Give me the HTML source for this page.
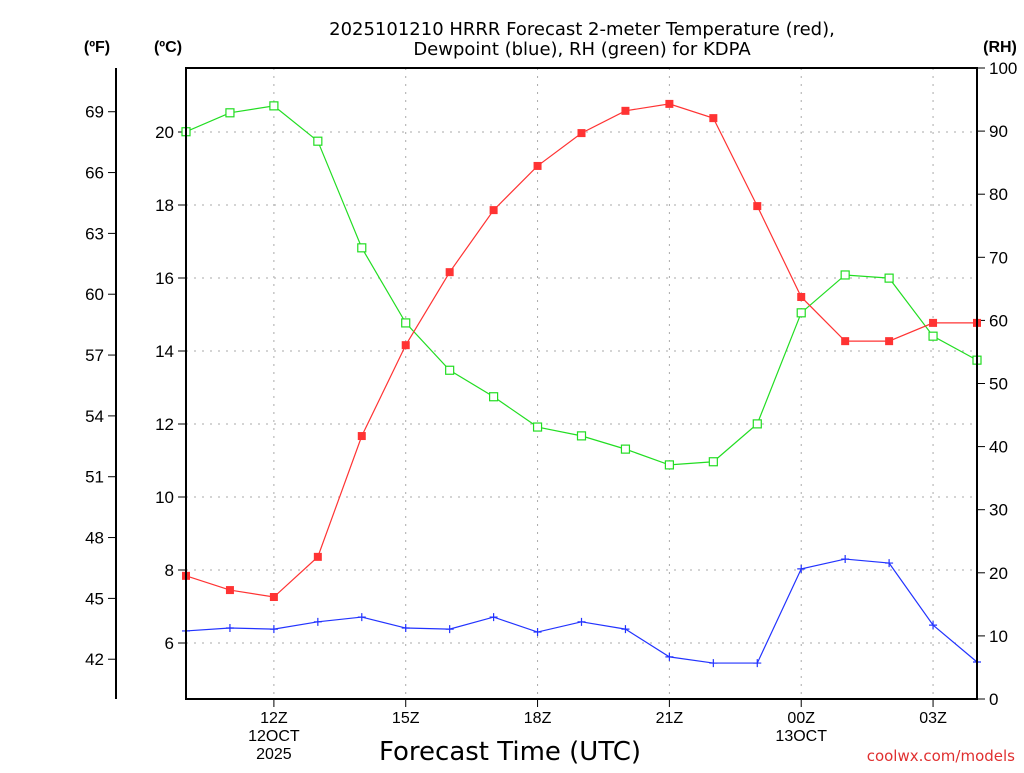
<!DOCTYPE html>
<html><head><meta charset="utf-8"><style>
body{margin:0;background:#fff;}
svg{font-family:"Liberation Sans",sans-serif;}
</style></head><body>
<svg id="c" width="1024" height="768" xmlns="http://www.w3.org/2000/svg">
<text x="582" y="35" font-size="18" text-anchor="middle" font-family="DejaVu Sans">2025101210 HRRR Forecast 2-meter Temperature (red),</text>
<text x="582" y="55" font-size="18" text-anchor="middle" font-family="DejaVu Sans">Dewpoint (blue), RH (green) for KDPA</text>
<text x="97" y="52" font-size="16" font-weight="bold" text-anchor="middle">(ºF)</text>
<text x="168" y="52" font-size="16" font-weight="bold" text-anchor="middle">(ºC)</text>
<text x="1000" y="52" font-size="16" font-weight="bold" text-anchor="middle">(RH)</text>
<text x="510" y="760" font-size="26" text-anchor="middle" font-family="DejaVu Sans">Forecast Time (UTC)</text>
<text x="1015" y="761" font-size="15" fill="#e03030" text-anchor="end" font-family="DejaVu Sans">coolwx.com/models</text>
<g id="g"></g>
</svg>
<script>
const hours=["10Z","11Z","12Z","13Z","14Z","15Z","16Z","17Z","18Z","19Z","20Z","21Z","22Z","23Z","00Z","01Z","02Z","03Z","04Z"];
const tempC=[7.84,7.45,7.26,8.36,11.67,14.16,16.16,17.86,19.07,19.97,20.58,20.77,20.38,17.97,15.48,14.27,14.27,14.77,14.77];
const dewC=[6.33,6.41,6.38,6.58,6.71,6.41,6.38,6.71,6.30,6.58,6.38,5.62,5.45,5.45,8.03,8.30,8.19,6.49,5.48];
const rh=[89.9,92.9,94.0,88.4,71.5,59.6,52.1,47.9,43.1,41.7,39.6,37.1,37.6,43.6,61.2,67.2,66.7,57.5,53.7];
const cTicks=[6,8,10,12,14,16,18,20];
const fTicks=[42,45,48,51,54,57,60,63,66,69];
const rhTicks=[0,10,20,30,40,50,60,70,80,90,100];
const xLabels=[[2,"12Z","12OCT","2025"],[5,"15Z"],[8,"18Z"],[11,"21Z"],[14,"00Z","13OCT"],[17,"03Z"]];
const L=186,R=977,T=68,B=699;
const X=i=>L+i*(R-L)/18;
const YC=c=>132+(20-c)*36.5;
const YF=f=>YC((f-32)*5/9);
const YR=r=>B-r*(B-T)/100;
const g=document.getElementById('g');
const NS="http://www.w3.org/2000/svg";
function mk(t,a,txt){const e=document.createElementNS(NS,t);for(const k in a)e.setAttribute(k,a[k]);if(txt!==undefined)e.textContent=txt;g.appendChild(e);return e;}
let e;
cTicks.forEach(c=>{
 e=mk('line',{x1:L,x2:R,y1:YC(c),y2:YC(c),stroke:'#aaa','stroke-dasharray':'2,6'});
 
 
 mk('line',{x1:L-8,x2:L,y1:YC(c),y2:YC(c),stroke:'#000'});
 e=mk('text',{x:L-12,y:YC(c)+6,'font-size':17,'text-anchor':'end'},String(c));
 
 
});
mk('line',{x1:116,x2:116,y1:T,y2:B,stroke:'#000','stroke-width':2});
fTicks.forEach(f=>{
 mk('line',{x1:108,x2:116,y1:YF(f),y2:YF(f),stroke:'#000'});
 e=mk('text',{x:104,y:YF(f)+6,'font-size':17,'text-anchor':'end'},String(f));
 
 
});
rhTicks.forEach(r=>{
 mk('line',{x1:R,x2:R+8,y1:YR(r),y2:YR(r),stroke:'#000'});
 e=mk('text',{x:R+12,y:YR(r)+6,'font-size':17},String(r));
 
 
});
xLabels.forEach(l=>{
 const x=X(l[0]);
 e=mk('line',{x1:x,x2:x,y1:T,y2:B,stroke:'#aaa','stroke-dasharray':'2,6'});
 
 
 mk('line',{x1:x,x2:x,y1:B,y2:B+8,stroke:'#000'});
 for(let k=1;k<l.length;k++){
  e=mk('text',{x:x,y:B+24+(k-1)*18,'font-size':16,'text-anchor':'middle'},l[k]);
  
  
 }
});
function series(vals,yf,col,name,marker){
 const pts=vals.map((v,i)=>X(i)+','+yf(v)).join(' ');
 e=mk('polyline',{points:pts,fill:'none',stroke:col,'stroke-width':1.2});
 
 
 vals.forEach((v,i)=>{
  const x=X(i),y=yf(v);
  if(marker==='fill')e=mk('rect',{x:x-4,y:y-4,width:8,height:8,fill:col});
  else if(marker==='open')e=mk('rect',{x:x-4,y:y-4,width:8,height:8,fill:'#fff',stroke:col,'stroke-width':1.2});
  else e=mk('path',{d:`M${x-4} ${y}H${x+4}M${x} ${y-4}V${y+4}`,stroke:col,'stroke-width':1.2});
  
  
 });
}
const svgc=document.getElementById('c');
series(rh,YR,'#22dd22','rh','open');
series(dewC,YC,'#2233ff','dewpoint','plus');
series(tempC,YC,'#ff3333','temperature','fill');
e=mk('rect',{x:L,y:T,width:R-L,height:B-T,fill:'none',stroke:'#000','stroke-width':2});


</script>
</body></html>
